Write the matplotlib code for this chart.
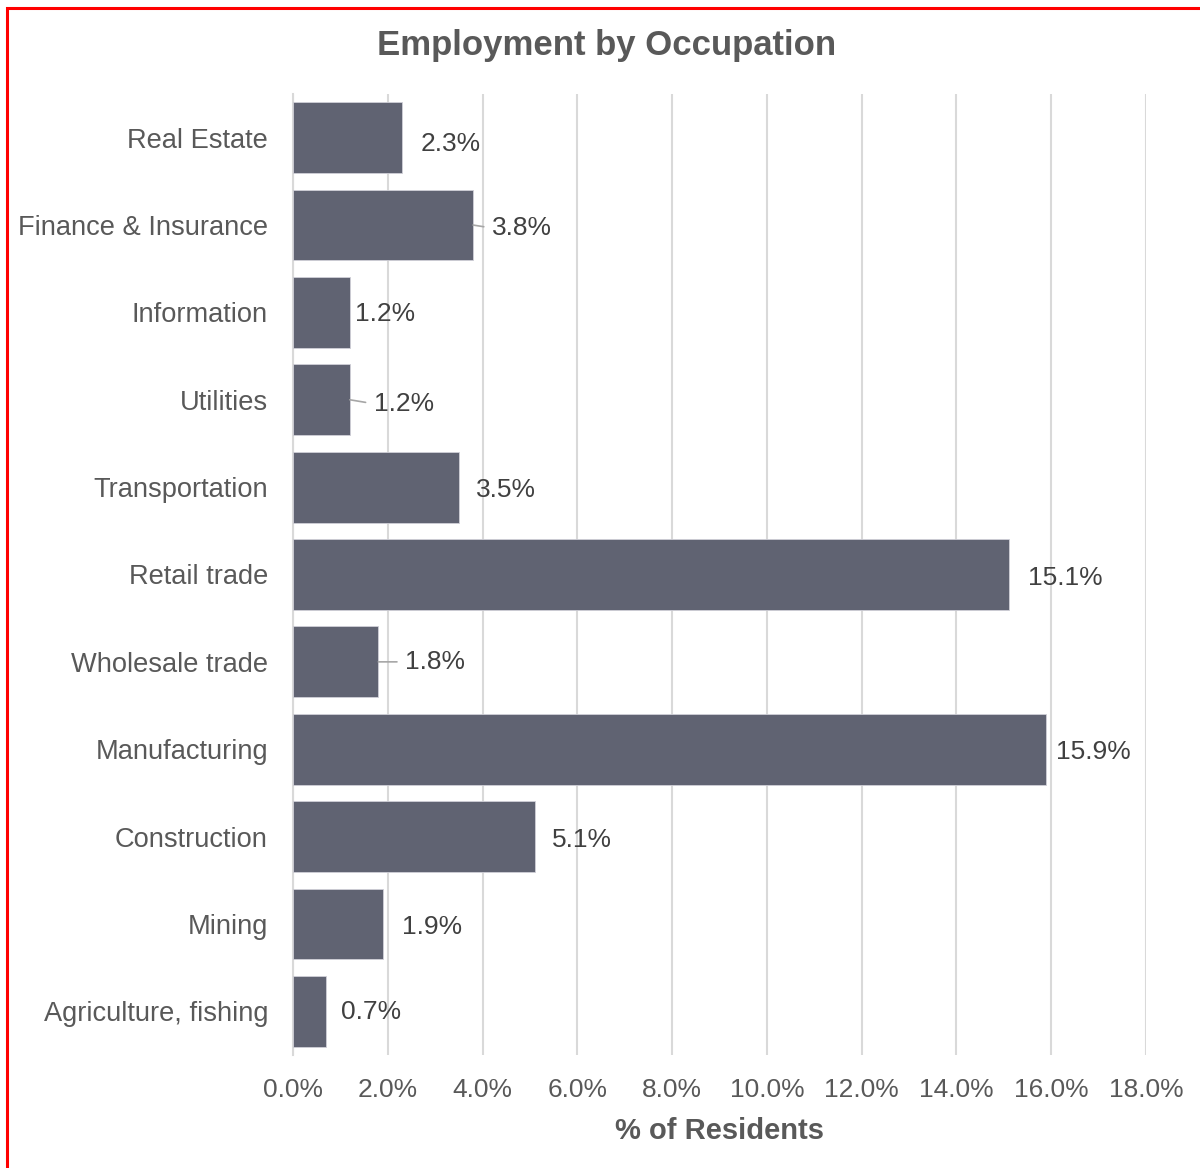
import matplotlib
matplotlib.use("Agg")
import matplotlib.pyplot as plt
from matplotlib.patches import Rectangle
from matplotlib.ticker import FuncFormatter, MultipleLocator

plt.rcParams['font.family'] = ['Liberation Sans', 'DejaVu Sans']

categories = ["Real Estate", "Finance & Insurance", "Information", "Utilities",
              "Transportation", "Retail trade", "Wholesale trade", "Manufacturing",
              "Construction", "Mining", "Agriculture, fishing"]
values = [2.3, 3.8, 1.2, 1.2, 3.5, 15.1, 1.8, 15.9, 5.1, 1.9, 0.7]
labels = ["2.3%", "3.8%", "1.2%", "1.2%", "3.5%", "15.1%", "1.8%", "15.9%", "5.1%", "1.9%", "0.7%"]
# label offsets from bar end (pixels; dy positive = downward) and leader lines
label_dx = [19, 19, 5, 24, 17, 19, 27, 10, 17, 19, 15]
label_dy = [4, 1, 0, 2, 1, 2, -2, 1, 1, 1, -1]
leader = [False, True, False, True, False, False, True, False, False, False, False]

W, H = 1200, 1168
fig = plt.figure(figsize=(W / 100, H / 100), dpi=100)
ax = fig.add_axes([293 / W, 1 - 1055 / H, (1146 - 293) / W, (1055 - 94) / H])

bar_color = "#606372"
text_grey = "#595959"
label_col = "#404040"
grid_col = "#d9d9d9"

ypos = list(range(len(categories)))
ax.barh(ypos, values, height=0.81, color=bar_color, edgecolor="#d0d0d8", linewidth=0.6, zorder=3)
ax.set_ylim(len(categories) - 0.5, -0.5)
ax.set_xlim(0, 18)
ax.xaxis.set_major_locator(MultipleLocator(2))
ax.xaxis.set_major_formatter(FuncFormatter(lambda v, p: f"{v:.1f}%"))
ax.set_yticks(ypos)
ax.set_yticklabels(categories)
ax.grid(axis='x', color=grid_col, linewidth=1.5, zorder=0)
ax.set_axisbelow(True)
for s in ['top', 'right', 'bottom']:
    ax.spines[s].set_visible(False)
ax.spines['left'].set_color(grid_col)
ax.spines['left'].set_linewidth(1.5)
ax.tick_params(axis='both', length=0, labelsize=19, labelcolor=text_grey)
ax.tick_params(axis='y', labelsize=19.6, pad=18)
ax.tick_params(axis='x', pad=16.4)
ax.set_xlabel("% of Residents", fontsize=21, fontweight='bold', color=text_grey, labelpad=11)

for i, (v, lab) in enumerate(zip(values, labels)):
    kw = {}
    if leader[i]:
        kw['arrowprops'] = dict(arrowstyle='-', color='#a6a6a6', lw=1.2,
                                shrinkA=4, shrinkB=0, relpos=(0, 0.5))
    ax.annotate(lab, xy=(v, i), xytext=(label_dx[i], -label_dy[i] - 2),
                textcoords='offset pixels', ha='left', va='center',
                fontsize=19, color=label_col, zorder=5, **kw)

fig.text(607 / W, 1 - 45 / H, "Employment by Occupation", ha='center', va='center',
         fontsize=25, fontweight='bold', color=text_grey)

fig.patches.append(Rectangle((7 / W, -0.1), 1.2, 1 - 8.5 / H + 0.1, transform=fig.transFigure,
                             fill=False, edgecolor='#ff0000', linewidth=2.2))

fig.savefig("out.png", dpi=100, facecolor='white')
